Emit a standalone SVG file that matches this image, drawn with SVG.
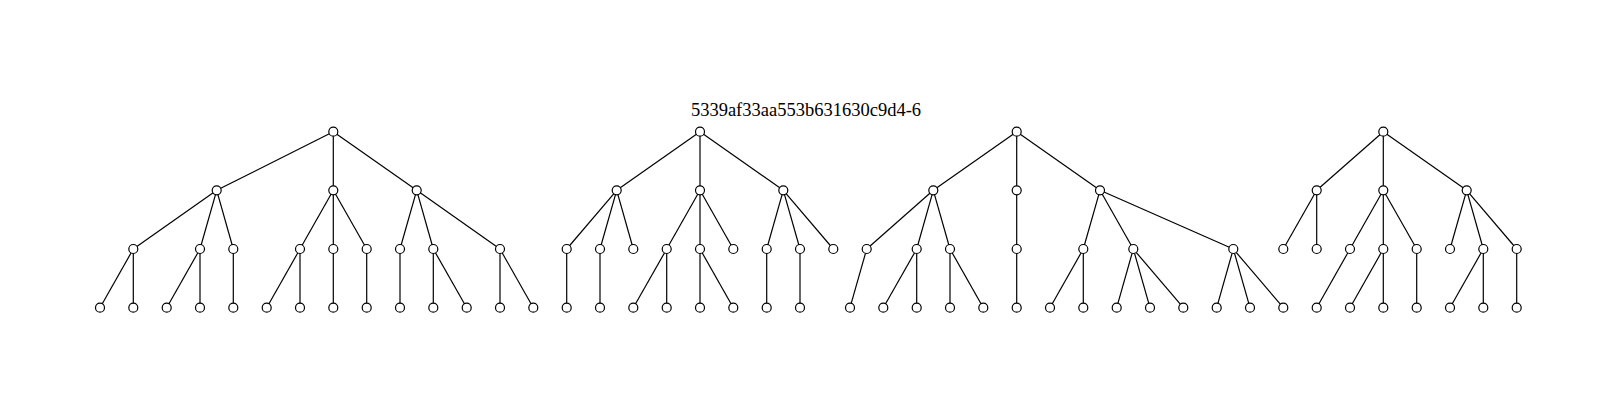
<svg xmlns="http://www.w3.org/2000/svg" width="1616" height="409" viewBox="0 0 1616 409">
<style>
.e line{stroke:#000;stroke-width:1.2;fill:none}
.n circle{fill:#fff;stroke:#000;stroke-width:1.2}
.t{font-family:"Liberation Serif","Times New Roman",serif;font-size:18.5px;fill:#000}
</style>
<rect width="1616" height="409" fill="#fff"/>
<text class="t" x="806" y="115.5" text-anchor="middle">5339af33aa553b631630c9d4-6</text>
<g id="connectors" class="e">
<!-- tree 1 -->
<line x1="333.3" y1="131.7" x2="216.7" y2="190.3"/>
<line x1="333.3" y1="131.7" x2="333.3" y2="190.3"/>
<line x1="333.3" y1="131.7" x2="416.7" y2="190.3"/>
<line x1="216.7" y1="190.3" x2="133.3" y2="249"/>
<line x1="216.7" y1="190.3" x2="200" y2="249"/>
<line x1="216.7" y1="190.3" x2="233.3" y2="249"/>
<line x1="333.3" y1="190.3" x2="300" y2="249"/>
<line x1="333.3" y1="190.3" x2="333.3" y2="249"/>
<line x1="333.3" y1="190.3" x2="366.7" y2="249"/>
<line x1="416.7" y1="190.3" x2="400" y2="249"/>
<line x1="416.7" y1="190.3" x2="433.3" y2="249"/>
<line x1="416.7" y1="190.3" x2="500" y2="249"/>
<line x1="133.3" y1="249" x2="100" y2="307.7"/>
<line x1="133.3" y1="249" x2="133.3" y2="307.7"/>
<line x1="200" y1="249" x2="166.7" y2="307.7"/>
<line x1="200" y1="249" x2="200" y2="307.7"/>
<line x1="233.3" y1="249" x2="233.3" y2="307.7"/>
<line x1="300" y1="249" x2="266.7" y2="307.7"/>
<line x1="300" y1="249" x2="300" y2="307.7"/>
<line x1="333.3" y1="249" x2="333.3" y2="307.7"/>
<line x1="366.7" y1="249" x2="366.7" y2="307.7"/>
<line x1="400" y1="249" x2="400" y2="307.7"/>
<line x1="433.3" y1="249" x2="433.3" y2="307.7"/>
<line x1="433.3" y1="249" x2="466.7" y2="307.7"/>
<line x1="500" y1="249" x2="500" y2="307.7"/>
<line x1="500" y1="249" x2="533.3" y2="307.7"/>
<!-- tree 2 -->
<line x1="700" y1="131.7" x2="616.7" y2="190.3"/>
<line x1="700" y1="131.7" x2="700" y2="190.3"/>
<line x1="700" y1="131.7" x2="783.3" y2="190.3"/>
<line x1="616.7" y1="190.3" x2="566.7" y2="249"/>
<line x1="616.7" y1="190.3" x2="600" y2="249"/>
<line x1="616.7" y1="190.3" x2="633.3" y2="249"/>
<line x1="700" y1="190.3" x2="666.7" y2="249"/>
<line x1="700" y1="190.3" x2="700" y2="249"/>
<line x1="700" y1="190.3" x2="733.3" y2="249"/>
<line x1="783.3" y1="190.3" x2="766.7" y2="249"/>
<line x1="783.3" y1="190.3" x2="800" y2="249"/>
<line x1="783.3" y1="190.3" x2="833.3" y2="249"/>
<line x1="566.7" y1="249" x2="566.7" y2="307.7"/>
<line x1="600" y1="249" x2="600" y2="307.7"/>
<line x1="666.7" y1="249" x2="633.3" y2="307.7"/>
<line x1="666.7" y1="249" x2="666.7" y2="307.7"/>
<line x1="700" y1="249" x2="700" y2="307.7"/>
<line x1="700" y1="249" x2="733.3" y2="307.7"/>
<line x1="766.7" y1="249" x2="766.7" y2="307.7"/>
<line x1="800" y1="249" x2="800" y2="307.7"/>
<!-- tree 3 -->
<line x1="1016.7" y1="131.7" x2="933.3" y2="190.3"/>
<line x1="1016.7" y1="131.7" x2="1016.7" y2="190.3"/>
<line x1="1016.7" y1="131.7" x2="1100" y2="190.3"/>
<line x1="933.3" y1="190.3" x2="866.7" y2="249"/>
<line x1="933.3" y1="190.3" x2="916.7" y2="249"/>
<line x1="933.3" y1="190.3" x2="950" y2="249"/>
<line x1="1016.7" y1="190.3" x2="1016.7" y2="249"/>
<line x1="1100" y1="190.3" x2="1083.3" y2="249"/>
<line x1="1100" y1="190.3" x2="1133.3" y2="249"/>
<line x1="1100" y1="190.3" x2="1233.3" y2="249"/>
<line x1="866.7" y1="249" x2="850" y2="307.7"/>
<line x1="916.7" y1="249" x2="883.3" y2="307.7"/>
<line x1="916.7" y1="249" x2="916.7" y2="307.7"/>
<line x1="950" y1="249" x2="950" y2="307.7"/>
<line x1="950" y1="249" x2="983.3" y2="307.7"/>
<line x1="1016.7" y1="249" x2="1016.7" y2="307.7"/>
<line x1="1083.3" y1="249" x2="1050" y2="307.7"/>
<line x1="1083.3" y1="249" x2="1083.3" y2="307.7"/>
<line x1="1133.3" y1="249" x2="1116.7" y2="307.7"/>
<line x1="1133.3" y1="249" x2="1150" y2="307.7"/>
<line x1="1133.3" y1="249" x2="1183.3" y2="307.7"/>
<line x1="1233.3" y1="249" x2="1216.7" y2="307.7"/>
<line x1="1233.3" y1="249" x2="1250" y2="307.7"/>
<line x1="1233.3" y1="249" x2="1283.3" y2="307.7"/>
<!-- tree 4 -->
<line x1="1383.3" y1="131.7" x2="1316.7" y2="190.3"/>
<line x1="1383.3" y1="131.7" x2="1383.3" y2="190.3"/>
<line x1="1383.3" y1="131.7" x2="1466.7" y2="190.3"/>
<line x1="1316.7" y1="190.3" x2="1283.3" y2="249"/>
<line x1="1316.7" y1="190.3" x2="1316.7" y2="249"/>
<line x1="1383.3" y1="190.3" x2="1350" y2="249"/>
<line x1="1383.3" y1="190.3" x2="1383.3" y2="249"/>
<line x1="1383.3" y1="190.3" x2="1416.7" y2="249"/>
<line x1="1466.7" y1="190.3" x2="1450" y2="249"/>
<line x1="1466.7" y1="190.3" x2="1483.3" y2="249"/>
<line x1="1466.7" y1="190.3" x2="1516.7" y2="249"/>
<line x1="1350" y1="249" x2="1316.7" y2="307.7"/>
<line x1="1383.3" y1="249" x2="1350" y2="307.7"/>
<line x1="1383.3" y1="249" x2="1383.3" y2="307.7"/>
<line x1="1416.7" y1="249" x2="1416.7" y2="307.7"/>
<line x1="1483.3" y1="249" x2="1450" y2="307.7"/>
<line x1="1483.3" y1="249" x2="1483.3" y2="307.7"/>
<line x1="1516.7" y1="249" x2="1516.7" y2="307.7"/>
</g>
<g id="nodes" class="n">
<!-- tree 1 -->
<g id="t1-root"><circle cx="333.3" cy="131.7" r="4.5"/></g>
<g id="t1-a"><circle cx="216.7" cy="190.3" r="4.5"/></g>
<g id="t1-b"><circle cx="333.3" cy="190.3" r="4.5"/></g>
<g id="t1-c"><circle cx="416.7" cy="190.3" r="4.5"/></g>
<g id="t1-a1"><circle cx="133.3" cy="249" r="4.5"/></g>
<g id="t1-a2"><circle cx="200" cy="249" r="4.5"/></g>
<g id="t1-a3"><circle cx="233.3" cy="249" r="4.5"/></g>
<g id="t1-b1"><circle cx="300" cy="249" r="4.5"/></g>
<g id="t1-b2"><circle cx="333.3" cy="249" r="4.5"/></g>
<g id="t1-b3"><circle cx="366.7" cy="249" r="4.5"/></g>
<g id="t1-c1"><circle cx="400" cy="249" r="4.5"/></g>
<g id="t1-c2"><circle cx="433.3" cy="249" r="4.5"/></g>
<g id="t1-c3"><circle cx="500" cy="249" r="4.5"/></g>
<g id="t1-l1"><circle cx="100" cy="307.7" r="4.5"/></g>
<g id="t1-l2"><circle cx="133.3" cy="307.7" r="4.5"/></g>
<g id="t1-l3"><circle cx="166.7" cy="307.7" r="4.5"/></g>
<g id="t1-l4"><circle cx="200" cy="307.7" r="4.5"/></g>
<g id="t1-l5"><circle cx="233.3" cy="307.7" r="4.5"/></g>
<g id="t1-l6"><circle cx="266.7" cy="307.7" r="4.5"/></g>
<g id="t1-l7"><circle cx="300" cy="307.7" r="4.5"/></g>
<g id="t1-l8"><circle cx="333.3" cy="307.7" r="4.5"/></g>
<g id="t1-l9"><circle cx="366.7" cy="307.7" r="4.5"/></g>
<g id="t1-l10"><circle cx="400" cy="307.7" r="4.5"/></g>
<g id="t1-l11"><circle cx="433.3" cy="307.7" r="4.5"/></g>
<g id="t1-l12"><circle cx="466.7" cy="307.7" r="4.5"/></g>
<g id="t1-l13"><circle cx="500" cy="307.7" r="4.5"/></g>
<g id="t1-l14"><circle cx="533.3" cy="307.7" r="4.5"/></g>
<!-- tree 2 -->
<g id="t2-root"><circle cx="700" cy="131.7" r="4.5"/></g>
<g id="t2-a"><circle cx="616.7" cy="190.3" r="4.5"/></g>
<g id="t2-b"><circle cx="700" cy="190.3" r="4.5"/></g>
<g id="t2-c"><circle cx="783.3" cy="190.3" r="4.5"/></g>
<g id="t2-a1"><circle cx="566.7" cy="249" r="4.5"/></g>
<g id="t2-a2"><circle cx="600" cy="249" r="4.5"/></g>
<g id="t2-a3"><circle cx="633.3" cy="249" r="4.5"/></g>
<g id="t2-b1"><circle cx="666.7" cy="249" r="4.5"/></g>
<g id="t2-b2"><circle cx="700" cy="249" r="4.5"/></g>
<g id="t2-b3"><circle cx="733.3" cy="249" r="4.5"/></g>
<g id="t2-c1"><circle cx="766.7" cy="249" r="4.5"/></g>
<g id="t2-c2"><circle cx="800" cy="249" r="4.5"/></g>
<g id="t2-c3"><circle cx="833.3" cy="249" r="4.5"/></g>
<g id="t2-l1"><circle cx="566.7" cy="307.7" r="4.5"/></g>
<g id="t2-l2"><circle cx="600" cy="307.7" r="4.5"/></g>
<g id="t2-l3"><circle cx="633.3" cy="307.7" r="4.5"/></g>
<g id="t2-l4"><circle cx="666.7" cy="307.7" r="4.5"/></g>
<g id="t2-l5"><circle cx="700" cy="307.7" r="4.5"/></g>
<g id="t2-l6"><circle cx="733.3" cy="307.7" r="4.5"/></g>
<g id="t2-l7"><circle cx="766.7" cy="307.7" r="4.5"/></g>
<g id="t2-l8"><circle cx="800" cy="307.7" r="4.5"/></g>
<!-- tree 3 -->
<g id="t3-root"><circle cx="1016.7" cy="131.7" r="4.5"/></g>
<g id="t3-a"><circle cx="933.3" cy="190.3" r="4.5"/></g>
<g id="t3-b"><circle cx="1016.7" cy="190.3" r="4.5"/></g>
<g id="t3-c"><circle cx="1100" cy="190.3" r="4.5"/></g>
<g id="t3-a1"><circle cx="866.7" cy="249" r="4.5"/></g>
<g id="t3-a2"><circle cx="916.7" cy="249" r="4.5"/></g>
<g id="t3-a3"><circle cx="950" cy="249" r="4.5"/></g>
<g id="t3-b1"><circle cx="1016.7" cy="249" r="4.5"/></g>
<g id="t3-c1"><circle cx="1083.3" cy="249" r="4.5"/></g>
<g id="t3-c2"><circle cx="1133.3" cy="249" r="4.5"/></g>
<g id="t3-c3"><circle cx="1233.3" cy="249" r="4.5"/></g>
<g id="t3-l1"><circle cx="850" cy="307.7" r="4.5"/></g>
<g id="t3-l2"><circle cx="883.3" cy="307.7" r="4.5"/></g>
<g id="t3-l3"><circle cx="916.7" cy="307.7" r="4.5"/></g>
<g id="t3-l4"><circle cx="950" cy="307.7" r="4.5"/></g>
<g id="t3-l5"><circle cx="983.3" cy="307.7" r="4.5"/></g>
<g id="t3-l6"><circle cx="1016.7" cy="307.7" r="4.5"/></g>
<g id="t3-l7"><circle cx="1050" cy="307.7" r="4.5"/></g>
<g id="t3-l8"><circle cx="1083.3" cy="307.7" r="4.5"/></g>
<g id="t3-l9"><circle cx="1116.7" cy="307.7" r="4.5"/></g>
<g id="t3-l10"><circle cx="1150" cy="307.7" r="4.5"/></g>
<g id="t3-l11"><circle cx="1183.3" cy="307.7" r="4.5"/></g>
<g id="t3-l12"><circle cx="1216.7" cy="307.7" r="4.5"/></g>
<g id="t3-l13"><circle cx="1250" cy="307.7" r="4.5"/></g>
<g id="t3-l14"><circle cx="1283.3" cy="307.7" r="4.5"/></g>
<!-- tree 4 -->
<g id="t4-root"><circle cx="1383.3" cy="131.7" r="4.5"/></g>
<g id="t4-a"><circle cx="1316.7" cy="190.3" r="4.5"/></g>
<g id="t4-b"><circle cx="1383.3" cy="190.3" r="4.5"/></g>
<g id="t4-c"><circle cx="1466.7" cy="190.3" r="4.5"/></g>
<g id="t4-a1"><circle cx="1283.3" cy="249" r="4.5"/></g>
<g id="t4-a2"><circle cx="1316.7" cy="249" r="4.5"/></g>
<g id="t4-b1"><circle cx="1350" cy="249" r="4.5"/></g>
<g id="t4-b2"><circle cx="1383.3" cy="249" r="4.5"/></g>
<g id="t4-b3"><circle cx="1416.7" cy="249" r="4.5"/></g>
<g id="t4-c1"><circle cx="1450" cy="249" r="4.5"/></g>
<g id="t4-c2"><circle cx="1483.3" cy="249" r="4.5"/></g>
<g id="t4-c3"><circle cx="1516.7" cy="249" r="4.5"/></g>
<g id="t4-l1"><circle cx="1316.7" cy="307.7" r="4.5"/></g>
<g id="t4-l2"><circle cx="1350" cy="307.7" r="4.5"/></g>
<g id="t4-l3"><circle cx="1383.3" cy="307.7" r="4.5"/></g>
<g id="t4-l4"><circle cx="1416.7" cy="307.7" r="4.5"/></g>
<g id="t4-l5"><circle cx="1450" cy="307.7" r="4.5"/></g>
<g id="t4-l6"><circle cx="1483.3" cy="307.7" r="4.5"/></g>
<g id="t4-l7"><circle cx="1516.7" cy="307.7" r="4.5"/></g>
</g>
</svg>
